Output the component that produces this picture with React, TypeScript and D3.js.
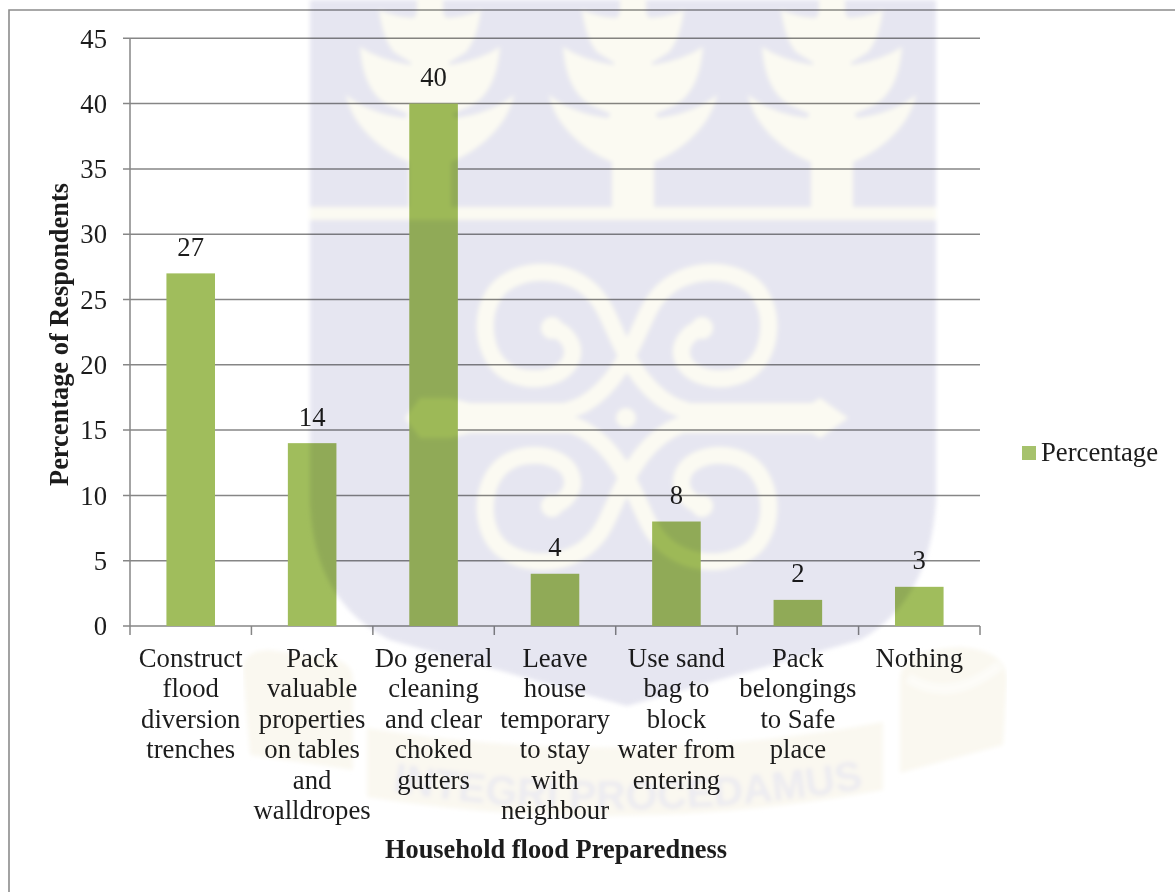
import React from "react";
import * as d3 from "d3";

// Survey results: share of respondents per preparedness measure
const categories = [
  ["Construct", "flood", "diversion", "trenches"],
  ["Pack", "valuable", "properties", "on tables", "and", "walldropes"],
  ["Do general", "cleaning", "and clear", "choked", "gutters"],
  ["Leave", "house", "temporary", "to stay", "with", "neighbour"],
  ["Use sand", "bag to", "block", "water from", "entering"],
  ["Pack", "belongings", "to Safe", "place"],
  ["Nothing"],
];
const percentages = [27, 14, 40, 4, 8, 2, 3];
const yTicks = [0, 5, 10, 15, 20, 25, 30, 35, 40, 45];
const seriesName = "Percentage";
const xTitle = "Household flood Preparedness";
const yTitle = "Percentage of Respondents";
const crestMotto = "INTEGRI PROCEDAMUS";

const WIDTH = 1175;
const HEIGHT = 892;
const SERIF = "'Liberation Serif', 'Times New Roman', serif";
const FONT_SIZE = 26.7;
const LINE_STEP = 30.4;
const TEXT = "#1c1c1c";
const RULE = "#868686";
const BAR = "#a0bd5c";
const SHIELD = "#e6e6f1";
const CREAM = "#fbfaf2";
const SCROLL = "#faf8f0";

const x = d3
  .scaleBand<number>()
  .domain(d3.range(categories.length))
  .range([130, 980])
  .paddingInner(0.6)
  .paddingOuter(0.3);
const y = d3.scaleLinear().domain([0, 45]).range([626, 38.3]);
const xEdges = d3.range(categories.length + 1).map((i) => 130 + i * x.step());

// One wheat sprig of the crest, centred on x = 0
const sprigTiers = [
  "M0,80 L-25,118 Q-60,114 -84,95 C-78,125 -50,150 -21,162 L-21,207 L21,207 L21,162 C50,150 78,125 84,95 Q60,114 25,118 Z",
  "M0,30 L-20,65 Q-50,60 -70,47 C-68,70 -62,95 -40,106 L-22,114 L22,114 L40,106 C62,95 68,70 70,47 Q50,60 20,65 Z",
  "M0,-10 L-16,18 Q-35,17 -51,10 C-48,30 -44,42 -36,52 L-20,62 L20,62 L36,52 C44,42 48,30 51,10 Q35,17 16,18 Z",
  "M-13,-5 L13,-5 L13,30 L-13,30 Z",
];
const sprigCentres = [430, 633, 832];

// Upper-left coil of the crest; the other three are reflections of it
const coil =
  "M552,328 C566,332 578,346 570,362 C560,381 520,386 500,366 C479,345 480,300 505,283 C535,263 585,270 605,310 C618,335 632,382 670,404 C690,415 720,417 760,417";

const Crest = () => (
  <g
    style={{ mixBlendMode: "multiply" }}
    filter="url(#crest-soft)"
    pointerEvents="none"
  >
    <path
      fill={SCROLL}
      d="M367,728 Q625,770 883,722 L883,790 Q625,838 367,797 Z"
    />
    <path
      fill={SCROLL}
      d="M243,670 Q243,650 270,650 L338,660 Q353,665 353,680 L353,770 L250,755 Z"
    />
    <path
      fill={SCROLL}
      d="M900,680 Q900,650 960,647 Q1007,650 1007,680 L1003,745 L900,773 Z"
    />
    <path
      d="M908,678 Q950,705 1000,665"
      fill="none"
      stroke="#fdfcf8"
      strokeWidth={10}
    />
    <path
      fill={SHIELD}
      d="M310,0 L310,500 C312,570 340,615 390,640 L627,706 L860,640 C905,615 932,570 936,500 L936,0 Z"
    />
    <rect x={310} y={207} width={626} height={13} fill={CREAM} />
    {sprigCentres.map((cx) => (
      <g key={cx} transform={`translate(${cx},0)`} fill={CREAM}>
        {sprigTiers.map((d) => (
          <path key={d} d={d} />
        ))}
      </g>
    ))}
    {[
      "",
      "translate(1254,0) scale(-1,1)",
      "translate(0,834) scale(1,-1)",
      "translate(1254,834) scale(-1,-1)",
    ].map((t) => (
      <g key={t} transform={t}>
        <path
          d={coil}
          fill="none"
          stroke={CREAM}
          strokeWidth={17}
          strokeLinecap="round"
        />
        <circle cx={552} cy={328} r={11} fill={CREAM} />
      </g>
    ))}
    <path
      fill={CREAM}
      d="M405,418 L420,398 L450,398 L470,403 L570,403 L570,433 L470,433 L450,438 L420,438 Z"
    />
    <path
      fill={CREAM}
      d="M848,418 L820,398 L812,403 L685,403 L685,433 L812,433 L820,438 Z"
    />
    <path fill={SHIELD} d="M590,418 L626,396 L660,418 L626,441 Z" />
    <circle cx={626} cy={418} r={10} fill={CREAM} />
    <path id="motto-arc" d="M392,791 Q625,830 872,787" fill="none" />
    <text
      fontFamily="'Liberation Sans', Arial, sans-serif"
      fontWeight={700}
      fontSize={41}
      fill="#ecebf1"
    >
      <textPath href="#motto-arc">{crestMotto}</textPath>
    </text>
  </g>
);

export default function App() {
  return (
    <svg
      width={WIDTH}
      height={HEIGHT}
      viewBox={`0 0 ${WIDTH} ${HEIGHT}`}
      style={{ position: "absolute", left: 0, top: 0, display: "block" }}
      fontFamily={SERIF}
      fontSize={FONT_SIZE}
      fill={TEXT}
    >
      <defs>
        <filter id="crest-soft" x="0" y="0" width="100%" height="100%">
          <feGaussianBlur stdDeviation={2} />
        </filter>
      </defs>
      <rect width={WIDTH} height={HEIGHT} fill="#fff" />

      {/* Outer chart frame, open on the right and at the bottom */}
      <path
        d={`M${WIDTH},10 L9,10 L9,${HEIGHT}`}
        fill="none"
        stroke="#8c8c8c"
        strokeWidth={1.6}
      />

      {/* Gridlines and value axis */}
      {yTicks.map((t) => (
        <g key={t}>
          <line
            x1={123}
            x2={980}
            y1={y(t)}
            y2={y(t)}
            stroke={RULE}
            strokeWidth={1.5}
          />
          <text x={107} y={y(t) + 9.2} textAnchor="end">
            {t}
          </text>
        </g>
      ))}
      <line x1={130} x2={130} y1={y(45)} y2={y(0)} stroke={RULE} strokeWidth={1.5} />
      {xEdges.map((v) => (
        <line
          key={v}
          x1={v}
          x2={v}
          y1={y(0)}
          y2={y(0) + 9}
          stroke={RULE}
          strokeWidth={1.5}
        />
      ))}

      {/* Bars with their value labels */}
      {percentages.map((v, i) => (
        <g key={i}>
          <rect
            x={x(i)}
            y={y(v)}
            width={x.bandwidth()}
            height={y(0) - y(v)}
            fill={BAR}
          />
          <text
            x={(x(i) as number) + x.bandwidth() / 2}
            y={y(v) - 17.5}
            textAnchor="middle"
          >
            {v}
          </text>
        </g>
      ))}

      {/* Wrapped category labels */}
      {categories.map((lines, i) => (
        <text
          key={i}
          x={(x(i) as number) + x.bandwidth() / 2}
          y={667}
          textAnchor="middle"
        >
          {lines.map((line, j) => (
            <tspan
              key={j}
              x={(x(i) as number) + x.bandwidth() / 2}
              y={667 + j * LINE_STEP}
            >
              {line}
            </tspan>
          ))}
        </text>
      ))}

      <text x={556} y={858} textAnchor="middle" fontWeight={700} fontSize={26.4}>
        {xTitle}
      </text>
      <text
        transform="translate(68,334.5) rotate(-90)"
        textAnchor="middle"
        fontWeight={700}
        fontSize={26.4}
      >
        {yTitle}
      </text>

      {/* Legend */}
      <rect x={1022} y={446} width={14} height={14} fill="#a6c26c" />
      <text x={1041} y={461}>
        {seriesName}
      </text>

      <Crest />
    </svg>
  );
}
